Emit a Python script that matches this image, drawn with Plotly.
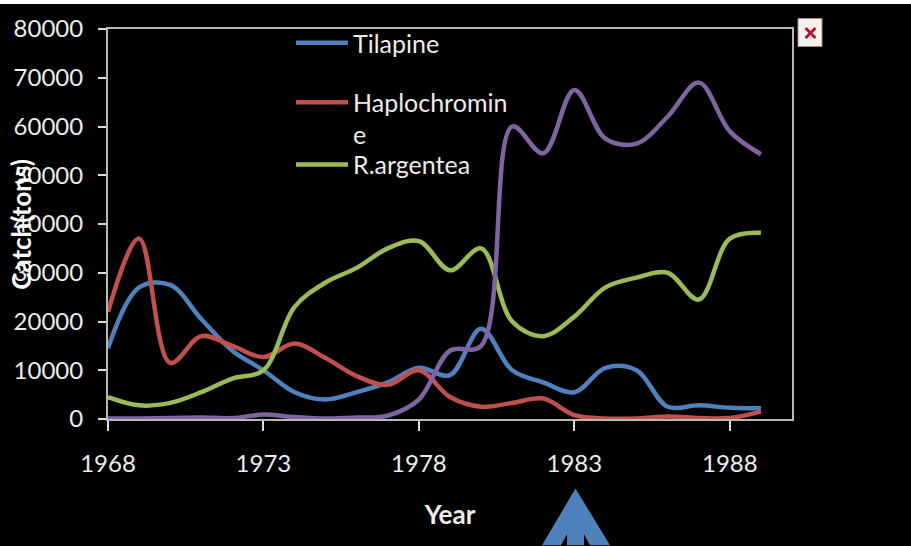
import plotly.graph_objects as go

years = list(range(1968, 1990))
tilapine = [14500, 27000, 27500, 20500, 14000, 10000, 5500, 4000, 5500, 7500, 10500,
            9000, 18500, 10000, 7500, 5500, 10500, 10000, 2500, 2800, 2300, 2200]
haplochromine = [22000, 37000, 11500, 17000, 15000, 12700, 15500, 12500, 8800, 7000, 10000,
                 4500, 2500, 3300, 4200, 800, 100, 100, 500, 200, 200, 1500]
argentea = [4500, 2800, 3300, 5500, 8300, 10000, 23000, 28000, 31000, 35000, 36500,
            30500, 35000, 20000, 17000, 21000, 27000, 29000, 30000, 24500, 37000, 38200]
fourth = [100, 100, 200, 300, 200, 900, 400, 100, 300, 700, 4000,
          14000, 15000, 60000, 54500, 67500, 57500, 56500, 62000, 69000, 59000, 54300]
y_ticks = [0, 10000, 20000, 30000, 40000, 50000, 60000, 70000, 80000]
x_ticks = [1968, 1973, 1978, 1983, 1988]

W, H = 911, 546
L, R, T, B = 108, 792, 29, 419.5
def px(x): return (x - L) / (R - L)
def py(y): return (B - y) / (B - T)

FONT = "Lato"
TXT = "#ececec"
AX = "#b8b8b8"

fig = go.Figure()
series = [("Tilapine", tilapine, "#4f81bd", "legend"),
          ("&nbsp;<br>Haplochromin<br>e", haplochromine, "#c0504d", "legend2"),
          ("R.argentea", argentea, "#9bbb59", "legend3"),
          ("Series 4", fourth, "#8064a2", None)]
for name, vals, col, leg in series:
    fig.add_trace(go.Scatter(x=years, y=vals, name=name, mode="lines",
                             line=dict(color=col, width=4.5, shape="spline", smoothing=1.0),
                             showlegend=leg is not None, legend=leg or "legend", cliponaxis=False))

def legend_at(top):
    return dict(x=px(291), y=py(top), xanchor="left", yanchor="top", bgcolor="rgba(0,0,0,0)",
                font=dict(family=FONT, size=25, color=TXT), itemwidth=52, borderwidth=0)

arrow = [(575.5, 489), (610, 546), (590, 546), (584, 535), (584, 546), (567, 546), (567, 535), (561, 546), (542, 546)]
arrow_path = "M " + " L ".join(f"{px(x):.5f},{py(y):.5f}" for x, y in arrow) + " Z"

def pshape(kind, x0, y0, x1, y1, **kw):
    return dict(type=kind, xref="paper", yref="paper", x0=px(x0), x1=px(x1), y0=py(y0), y1=py(y1), **kw)

shapes = [
    pshape("rect", 0, 0, W, 4, fillcolor="white", line_width=0),
    dict(type="path", xref="paper", yref="paper", path=arrow_path, fillcolor="#4f81bd", line_width=0),
    pshape("rect", 798, 18.5, 822, 46.5, fillcolor="#f6f2ee", line=dict(color="#a88", width=1)),
    pshape("line", 805.5, 28, 815.5, 38, line=dict(color="#c8102e", width=3)),
    pshape("line", 815.5, 28, 805.5, 38, line=dict(color="#c8102e", width=3)),
]

fig.update_layout(
    width=W, height=H, autosize=False,
    margin=dict(l=L, r=W - R, t=T, b=H - B, pad=0),
    paper_bgcolor="black", plot_bgcolor="black",
    font=dict(family=FONT, color=TXT, size=24),
    legend=legend_at(20), legend2=legend_at(47), legend3=legend_at(142),
    shapes=shapes, hovermode=False,
    xaxis=dict(range=[1968, 1990], tickvals=x_ticks, ticks="outside", ticklen=10, tickwidth=1.5,
               tickcolor="#dddddd", showgrid=False, zeroline=False, showline=True, linecolor=AX, linewidth=2,
               mirror=True, ticklabelstandoff=12, tickformat="d", tickfont=dict(family=FONT, size=24, color=TXT),
               title=dict(text="<b>Year</b>", font=dict(family=FONT, size=26, color=TXT), standoff=30)),
    yaxis=dict(range=[0, 80000], tickvals=y_ticks, ticks="outside", ticklen=8, tickwidth=1.5,
               tickcolor="#dddddd", showgrid=False, zeroline=False, showline=True, linecolor=AX, linewidth=2,
               mirror=True, ticklabelstandoff=10, tickformat="d", tickfont=dict(family=FONT, size=24, color=TXT)),
    annotations=[dict(text="<b>Catch(tons)</b>", xref="paper", yref="paper", x=px(21), y=py(225),
                      showarrow=False, textangle=-90, xanchor="center", yanchor="middle",
                      font=dict(family=FONT, size=26, color="white"))],
)
fig.write_html("out.html", config={"displayModeBar": False}, post_script="document.body.style.margin='0';")
